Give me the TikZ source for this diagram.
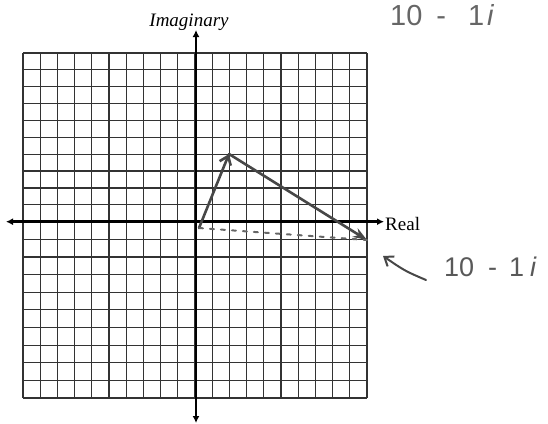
\documentclass[tikz,border=0pt]{standalone}
\usepackage{fontspec}
\setmainfont{Liberation Serif}
\newfontfamily\handfont{Liberation Sans}
\usetikzlibrary{arrows.meta}
\tikzset{
  gridline/.style={line width=1.2pt, draw=black!80},
  axisline/.style={line width=2.6pt, draw=black, -{Latex[length=7pt,width=7pt]}},
  penline/.style={line width=2.6pt, draw=black!72, line cap=round, line join=round},
  pendash/.style={line width=2pt, draw=black!60, line cap=round, dash pattern=on 4pt off 7pt},
  axislabel/.style={font=\fontsize{19}{19}\selectfont, inner sep=0pt},
  hand/.style={font=\handfont\fontsize{29}{29}\selectfont, text=black!60, inner sep=0pt},
  handsmall/.style={font=\handfont\fontsize{27}{27}\selectfont, text=black!65, inner sep=0pt},
}
\begin{document}
\begin{tikzpicture}[x=1pt,y=-1pt]
\useasboundingbox (0,0) rectangle (548,423);
% grid columns
\foreach \i in {0,...,20} {
  \draw[gridline] ({23+17.2*\i},53) -- ({23+17.2*\i},398);
}
% grid rows, top half
\foreach \j in {0,...,9} {
  \draw[gridline] (23,{53+16.87*\j}) -- (367,{53+16.87*\j});
}
% grid rows, bottom half
\foreach \j in {1,...,10} {
  \draw[gridline] (23,{221.7+17.63*\j}) -- (367,{221.7+17.63*\j});
}
% axes
\coordinate (O) at (196,221.7);
\coordinate (xl) at (6,221.7);
\coordinate (xr) at (384,221.7);
\coordinate (yt) at (196,30);
\coordinate (yb) at (196,423);
\draw[axisline] (O) -- (xr);
\draw[axisline] (O) -- (xl);
\draw[axisline] (O) -- (yt);
\draw[axisline] (O) -- (yb);
\node[axislabel, anchor=base] (im) at (189,26) {\itshape Imaginary};
\node[axislabel, anchor=base west] (re) at (385,230) {Real};
% hand-drawn vectors
\coordinate (s) at (199,228);
\coordinate (A) at (229,154);
\coordinate (B) at (367,240);
\draw[penline, -{Straight Barb[length=8pt,width=12pt]}] (s) -- (A);
\draw[penline, -{Stealth[length=14pt,width=10pt]}] (A) -- (B);
\draw[pendash] (s) -- (B);
% handwritten labels
\node[hand, anchor=base west] (t1) at (390,25) {10\hspace{14pt}-\hspace{22pt}1\hspace{3pt}\textit{i}};
\coordinate (tip) at (383,256);
\coordinate (tail) at (426,280);
\draw[penline, line width=2pt, -{Straight Barb[length=8pt,width=12pt]}] (tail) .. controls (405,271) .. (tip);
\node[handsmall, anchor=base west] (t2) at (444,276) {10\hspace{14pt}-\hspace{12pt}1\hspace{6pt}\textit{i}};
\end{tikzpicture}
\end{document}
